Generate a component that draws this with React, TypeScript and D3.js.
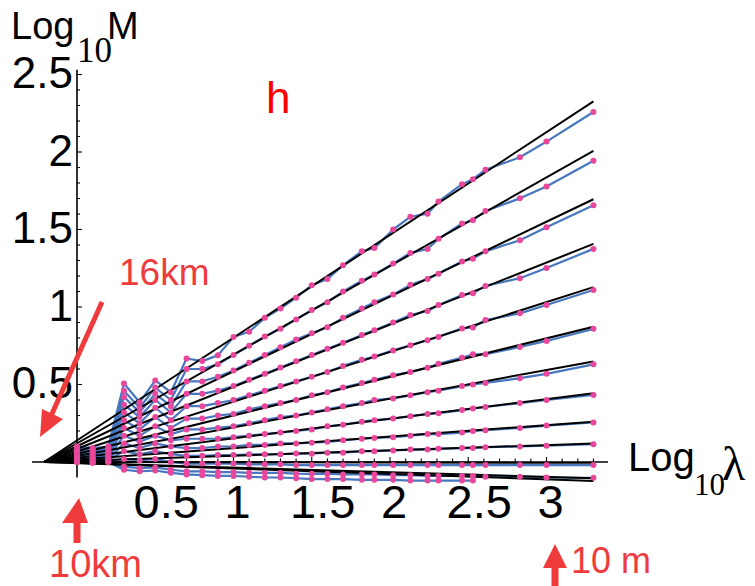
import React from 'react';
import * as d3 from 'd3';

// log10 of scale ratio (x positions of the sampled resolutions)
const logLambda = [
  0, 0.1, 0.2, 0.3, 0.4, 0.5, 0.6, 0.7, 0.8, 0.9, 1.0, 1.1, 1.2, 1.3, 1.4, 1.5, 1.6,
  1.7, 1.82, 1.9, 2.02, 2.13, 2.24, 2.31, 2.46, 2.53, 2.61, 2.83, 3.0, 3.3,
];

// empirical moments, one array per q (top = largest q)
const s1 = [0.10, 0.09, 0.10, 0.506, 0.385, 0.526, 0.45, 0.668, 0.651, 0.688, 0.807, 0.84, 0.93, 0.99, 1.06, 1.14, 1.18, 1.27, 1.36, 1.38, 1.50, 1.582, 1.602, 1.680, 1.792, 1.825, 1.885, 1.966, 2.067, 2.258];
const s2 = [0.09, 0.08, 0.09, 0.46, 0.35, 0.48, 0.40, 0.60, 0.60, 0.63, 0.69, 0.75, 0.81, 0.86, 0.92, 0.98, 1.03, 1.10, 1.17, 1.21, 1.28, 1.349, 1.375, 1.440, 1.539, 1.560, 1.619, 1.701, 1.777, 1.944];
const s3 = [0.08, 0.075, 0.08, 0.42, 0.32, 0.44, 0.36, 0.52, 0.52, 0.55, 0.59, 0.64, 0.69, 0.74, 0.79, 0.83, 0.87, 0.93, 0.99, 1.03, 1.08, 1.143, 1.180, 1.214, 1.294, 1.312, 1.359, 1.431, 1.515, 1.656];
const s4 = [0.07, 0.065, 0.07, 0.37, 0.29, 0.40, 0.32, 0.44, 0.44, 0.46, 0.49, 0.53, 0.57, 0.61, 0.65, 0.69, 0.73, 0.77, 0.82, 0.85, 0.90, 0.948, 0.974, 1.013, 1.078, 1.089, 1.136, 1.186, 1.251, 1.375];
const s5 = [0.06, 0.055, 0.06, 0.32, 0.25, 0.35, 0.27, 0.36, 0.36, 0.38, 0.40, 0.43, 0.46, 0.49, 0.52, 0.55, 0.58, 0.62, 0.66, 0.68, 0.72, 0.753, 0.786, 0.807, 0.862, 0.868, 0.916, 0.959, 1.013, 1.110];
const s6 = [0.05, 0.045, 0.05, 0.27, 0.21, 0.29, 0.22, 0.28, 0.28, 0.30, 0.31, 0.34, 0.36, 0.38, 0.40, 0.43, 0.45, 0.48, 0.51, 0.53, 0.56, 0.580, 0.608, 0.634, 0.673, 0.695, 0.695, 0.742, 0.781, 0.859];
const s7 = [0.04, 0.035, 0.04, 0.22, 0.17, 0.23, 0.18, 0.21, 0.21, 0.22, 0.23, 0.25, 0.27, 0.29, 0.30, 0.32, 0.34, 0.36, 0.38, 0.40, 0.41, 0.43, 0.45, 0.46, 0.49, 0.50, 0.51, 0.541, 0.569, 0.630];
const s8 = [0.03, 0.025, 0.03, 0.17, 0.13, 0.17, 0.14, 0.15, 0.15, 0.15, 0.16, 0.17, 0.18, 0.19, 0.20, 0.21, 0.23, 0.24, 0.26, 0.27, 0.28, 0.295, 0.31, 0.315, 0.335, 0.345, 0.355, 0.38, 0.40, 0.433];
const s9 = [0.02, 0.02, 0.02, 0.12, 0.09, 0.12, 0.10, 0.09, 0.09, 0.10, 0.10, 0.11, 0.11, 0.12, 0.12, 0.125, 0.13, 0.14, 0.15, 0.155, 0.16, 0.17, 0.18, 0.18, 0.19, 0.20, 0.205, 0.22, 0.235, 0.255];
const s10 = [0.015, 0.01, 0.015, 0.07, 0.05, 0.07, 0.05, 0.04, 0.04, 0.045, 0.045, 0.05, 0.05, 0.05, 0.055, 0.054, 0.06, 0.06, 0.07, 0.07, 0.075, 0.08, 0.08, 0.085, 0.09, 0.09, 0.095, 0.10, 0.105, 0.115];
const s11 = [0.005, 0.0, 0.005, 0.02, 0.01, 0.02, 0.0, -0.01, -0.01, -0.01, -0.01, -0.015, -0.015, -0.015, -0.02, -0.02, -0.02, -0.02, -0.02, -0.02, -0.02, -0.02, -0.02, -0.02, -0.02, -0.02, -0.02, -0.02, -0.02, -0.02];
const s12 = [0.0, -0.005, 0.0, -0.03, -0.04, -0.035, -0.05, -0.06, -0.06, -0.065, -0.065, -0.07, -0.07, -0.07, -0.075, -0.076, -0.075, -0.08, -0.08, -0.08, -0.085, -0.085, -0.09, -0.09, -0.09, -0.09, -0.095, -0.095, -0.10, -0.102];
const s13 = [0.0, -0.005, 0.0, -0.05, -0.06, -0.055, -0.07, -0.08, -0.085, -0.09, -0.09, -0.095, -0.10, -0.10, -0.105, -0.11, -0.11, -0.11, -0.115, -0.115, -0.115, -0.12, -0.12, -0.12, -0.12, -0.12];
const moments = [s1, s2, s3, s4, s5, s6, s7, s8, s9, s10, s11, s12, s13];

// fitted lines: all start at the effective outer scale, value at the right end
const fitOrigin = -0.21;
const fitStop = 3.3;
const fitEnd = [2.327, 2.008, 1.695, 1.407, 1.128, 0.872, 0.649, 0.443, 0.26, 0.119, -0.005, -0.105, -0.122];

const xTickLabels = ['0.5', '1', '1.5', '2', '2.5', '3'];
const yTickLabels = ['0.5', '1', '1.5', '2', '2.5'];

const W = 755;
const H = 586;
const font = "'Liberation Sans', Arial, sans-serif";
const serif = "'Liberation Serif', 'DejaVu Serif', serif";
const red = '#ef3b3b';

export default function App() {
  const x = d3.scaleLinear().domain([0, 1]).range([77, 233.5]);
  const y = d3.scaleLinear().domain([0, 1]).range([462, 307]);

  const line = d3.line<[number, number]>()
    .x(d => x(d[0]))
    .y(d => y(d[1]));

  const xMinor = d3.range(1, 34).map(i => i / 10);
  const yMinor = d3.range(1, 26).map(i => i / 10);

  return (
    <div style={{ position: 'fixed', left: 0, top: 0, width: W, height: H, background: '#fff' }}>
      <svg width={W} height={H} style={{ display: 'block' }}>
        {/* axes */}
        <line x1={32} x2={608} y1={y(0)} y2={y(0)} stroke="#000" strokeWidth={1.6} />
        <line x1={x(0)} x2={x(0)} y1={y(2.53)} y2={y(-0.1)} stroke="#000" strokeWidth={1.6} />
        {xMinor.map(t => (
          <line key={'xt' + t} x1={x(t)} x2={x(t)} y1={y(0)} y2={y(0) - (Math.round(t * 10) % 5 === 0 ? 5 : 3.5)}
            stroke="#000" strokeWidth={1.1} />
        ))}
        {yMinor.map(t => (
          <line key={'yt' + t} x1={x(0)} x2={x(0) + (Math.round(t * 10) % 5 === 0 ? 5 : 3)} y1={y(t)} y2={y(t)}
            stroke="#000" strokeWidth={1.1} />
        ))}

        {/* empirical moments */}
        {moments.map((s, i) => (
          <path key={'b' + i} d={line(s.map((v, j) => [logLambda[j], v] as [number, number])) || ''}
            fill="none" stroke="#4677bf" strokeWidth={2.2} strokeLinejoin="round" />
        ))}
        {/* fits */}
        {fitEnd.map((v, i) => (
          <path key={'k' + i} d={line([[fitOrigin, 0], [fitStop, v]]) || ''}
            fill="none" stroke="#000" strokeWidth={2} />
        ))}
        {moments.map((s, i) => s.map((v, j) => (
          <circle key={'d' + i + '-' + j} cx={x(logLambda[j])} cy={y(v)} r={3} fill="#e8479b" />
        )))}

        {/* tick labels */}
        {yTickLabels.map(t => (
          <text key={'yl' + t} x={73} y={y(+t) - 2} textAnchor="end" dominantBaseline="central"
            fontFamily={font} fontSize={44}>{t}</text>
        ))}
        {xTickLabels.map(t => (
          <text key={'xl' + t} x={x(+t) + (t.includes('.') ? 11 : 4)} y={518} textAnchor="middle"
            fontFamily={font} fontSize={47}>{t}</text>
        ))}

        {/* axis titles */}
        <text x={11} y={39} fontFamily={font} fontSize={38}>Log</text>
        <text x={77} y={62} fontFamily={serif} fontSize={35}>10</text>
        <text x={107} y={39} fontFamily={font} fontSize={38}>M</text>

        <text x={628} y={471} fontFamily={font} fontSize={40}>Log</text>
        <text x={694} y={495} fontFamily={serif} fontSize={31}>10</text>
        <text x={722} y={480} fontFamily={serif} fontSize={48}>λ</text>

        <text x={266} y={113} fill="#ff0000" fontFamily={font} fontSize={44}>h</text>

        {/* annotations */}
        <text x={119} y={285} fill={red} fontFamily={font} fontSize={37}>16km</text>
        <line x1={102} y1={302} x2={51} y2={416} stroke={red} strokeWidth={5} />
        <polygon points="40,437 42,409 63,419" fill={red} />

        <polygon points="79,498 62,523 88,523" fill={red} />
        <line x1={77} y1={520} x2={77} y2={543} stroke={red} strokeWidth={7} />
        <text x={49} y={577} fill={red} fontFamily={font} fontSize={38}>10km</text>

        <polygon points="555,544 543,568 567,568" fill={red} />
        <line x1={555} y1={565} x2={555} y2={586} stroke={red} strokeWidth={7} />
        <text x={571} y={573} fill={red} fontFamily={font} fontSize={36}>10 m</text>
      </svg>
    </div>
  );
}
